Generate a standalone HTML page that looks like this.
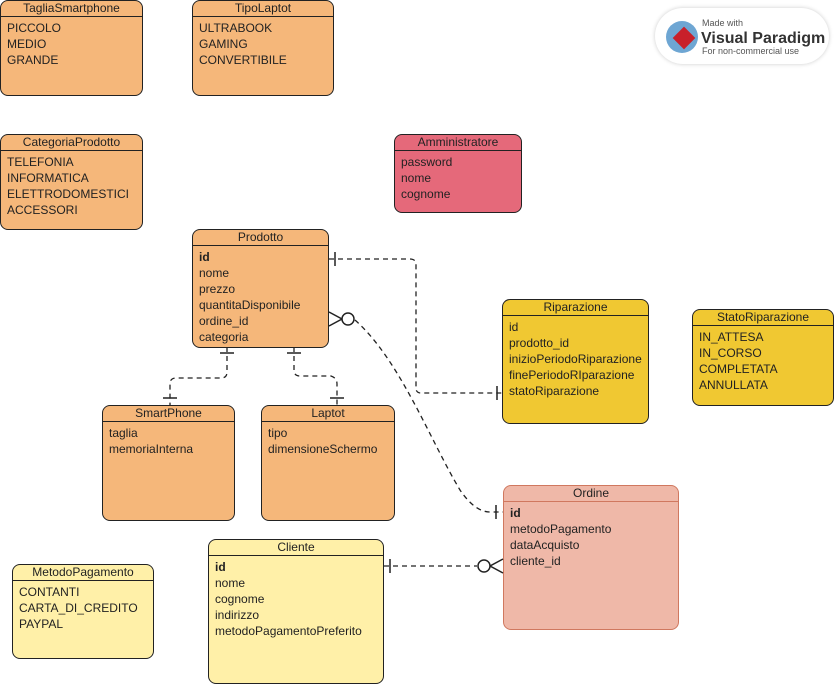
<!DOCTYPE html>
<html><head><style>
body{margin:0;width:835px;height:684px;background:#fff;position:relative;font-family:"Liberation Sans",sans-serif;overflow:hidden}
.e{position:absolute;box-sizing:border-box;border:1px solid #222;border-radius:8px;font-size:12px;color:#222}
.e .h{height:15px;line-height:14px;text-align:center;border-bottom:1px solid #222;font-size:12px}
.e .b{padding:3px 6px;line-height:16px}
.o{background:#f5b77a}.y{background:#f0c832}.l{background:#fff0a8}.p{background:#e5697a}
.r{background:#efb8a8;border-color:#d0785f}.r .h{border-color:#d0785f}
</style></head><body>
<div class="e o" style="left:0;top:0;width:143px;height:96px"><div class="h">TagliaSmartphone</div><div class="b">PICCOLO<br>MEDIO<br>GRANDE</div></div>
<div class="e o" style="left:192;left:192px;top:0;width:142px;height:96px"><div class="h">TipoLaptot</div><div class="b">ULTRABOOK<br>GAMING<br>CONVERTIBILE</div></div>
<div class="e o" style="left:0;top:134px;width:143px;height:96px"><div class="h">CategoriaProdotto</div><div class="b">TELEFONIA<br>INFORMATICA<br>ELETTRODOMESTICI<br>ACCESSORI</div></div>
<div class="e p" style="left:394px;top:134px;width:128px;height:79px"><div class="h">Amministratore</div><div class="b">password<br>nome<br>cognome</div></div>
<div class="e o" style="left:192px;top:229px;width:137px;height:119px"><div class="h">Prodotto</div><div class="b"><b>id</b><br>nome<br>prezzo<br>quantitaDisponibile<br>ordine_id<br>categoria</div></div>
<div class="e y" style="left:502px;top:299px;width:147px;height:125px"><div class="h">Riparazione</div><div class="b">id<br>prodotto_id<br>inizioPeriodoRiparazione<br>finePeriodoRIparazione<br>statoRiparazione</div></div>
<div class="e y" style="left:692px;top:309px;width:142px;height:97px"><div class="h">StatoRiparazione</div><div class="b">IN_ATTESA<br>IN_CORSO<br>COMPLETATA<br>ANNULLATA</div></div>
<div class="e o" style="left:102px;top:405px;width:133px;height:116px"><div class="h">SmartPhone</div><div class="b">taglia<br>memoriaInterna</div></div>
<div class="e o" style="left:261px;top:405px;width:134px;height:116px"><div class="h">Laptot</div><div class="b">tipo<br>dimensioneSchermo</div></div>
<div class="e r" style="left:503px;top:485px;width:176px;height:145px"><div class="h">Ordine</div><div class="b"><b>id</b><br>metodoPagamento<br>dataAcquisto<br>cliente_id</div></div>
<div class="e l" style="left:12px;top:564px;width:142px;height:95px"><div class="h">MetodoPagamento</div><div class="b">CONTANTI<br>CARTA_DI_CREDITO<br>PAYPAL</div></div>
<div class="e l" style="left:208px;top:539px;width:176px;height:145px"><div class="h">Cliente</div><div class="b"><b>id</b><br>nome<br>cognome<br>indirizzo<br>metodoPagamentoPreferito</div></div>
<div style="position:absolute;left:655px;top:8px;width:174px;height:56px;border-radius:28px;background:#fff;box-shadow:0 0 4px #ccc"></div>
<svg width="835" height="684" style="position:absolute;left:0;top:0">
<circle cx="682" cy="37" r="16" fill="#4a90c8" opacity=".8"/>
<rect x="676" y="30" width="16" height="16" fill="#c8202a" transform="rotate(45 684 38)"/>
<text x="702" y="26" font-size="9" fill="#555" font-family="Liberation Sans">Made with</text>
<text x="701" y="43" font-size="16" font-weight="bold" fill="#333" font-family="Liberation Sans">Visual Paradigm</text>
<text x="702" y="54" font-size="9" fill="#555" font-family="Liberation Sans">For non-commercial use</text>
<g fill="none" stroke="#222" stroke-width="1.3" stroke-dasharray="5,4">
<path d="M329 259 H410 Q416 259 416 265 V388 Q416 393 421 393 H502"/>
<path d="M355 320 C400 360 430 440 460 490 Q475 512 490 512 H503"/>
<path d="M227 347 V372 Q227 378 221 378 H176 Q170 378 170 384 V405"/>
<path d="M294 347 V370 Q294 376 300 376 H331 Q337 378 337 384 V405"/>
<path d="M384 566 H477"/>
</g>
<g fill="none" stroke="#222" stroke-width="1.5">
<path d="M335 252 V266 M497 386 V400 M220 353 H234 M163 398 H177 M287 353 H301 M330 398 H344 M496 505 V519 M390 559 V573"/>
<path d="M329 312 L342 319 L329 326"/>
<circle cx="348" cy="319" r="6" fill="#fff"/>
<path d="M503 559 L490 566 L503 573"/>
<circle cx="484" cy="566" r="6" fill="#fff"/>
</g>
</svg>
</body></html>
